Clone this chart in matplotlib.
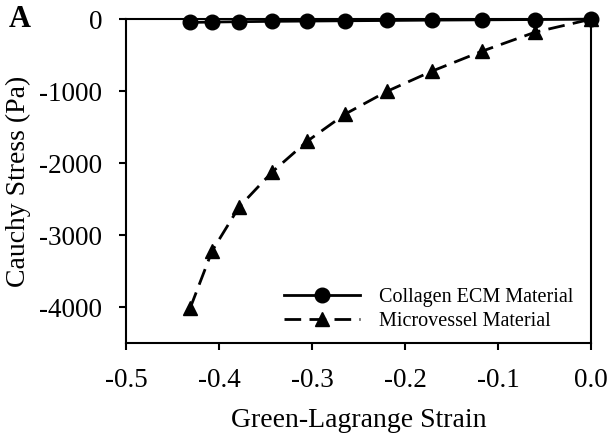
import matplotlib
matplotlib.use("Agg")
import matplotlib.pyplot as plt

strain = [-0.431, -0.4075, -0.3785, -0.343, -0.305, -0.2645, -0.219, -0.171, -0.117, -0.060, 0.0]
collagen = [-45, -40, -35, -30, -26, -22, -18, -13, -9, -5, 0]
microvessel = [-4014, -3222, -2611, -2125, -1694, -1319, -1000, -722, -444, -180, 0]

plt.rcParams["font.family"] = ["Liberation Serif", "DejaVu Serif"]

fig = plt.figure(figsize=(6.1, 4.36), dpi=100)
ax = fig.add_axes([0.2066, 0.2133, 0.7624, 0.7427])

ax.plot(strain, collagen, color="black", lw=2, marker="o", ms=10.5,
        clip_on=False, zorder=4, label="Collagen ECM Material")
ax.plot(strain, microvessel, color="black", lw=2, ls=(0, (6, 3)), marker="^", ms=10.5,
        clip_on=False, zorder=3, label="Microvessel Material")

ax.set_xlim(-0.5, 0.0)
ax.set_ylim(-4500, 0)
ax.set_xticks([-0.5, -0.4, -0.3, -0.2, -0.1, 0.0])
ax.set_xticklabels(["-0.5", "-0.4", "-0.3", "-0.2", "-0.1", "0.0"])
ax.set_yticks([0, -1000, -2000, -3000, -4000])
ax.set_yticklabels(["0", "-1000", "-2000", "-3000", "-4000"])

for s in ax.spines.values():
    s.set_linewidth(1.5)
ax.tick_params(direction="out", length=5, width=1.5, labelsize=19.5, top=False, right=False)
ax.tick_params(axis="x", pad=13)
ax.tick_params(axis="y", pad=12)

ax.set_xlabel("Green-Lagrange Strain", fontsize=20, labelpad=11)
ax.set_ylabel("Cauchy Stress (Pa)", fontsize=20, labelpad=6)

ax.legend(loc="lower right", frameon=False, fontsize=14.5, handlelength=3.8,
          handletextpad=0.9, labelspacing=0.25, bbox_to_anchor=(1.0, -0.02))

fig.text(0.015, 0.955, "A", fontsize=22, fontweight="bold", va="center", ha="left")

fig.savefig("out.png", dpi=100)
